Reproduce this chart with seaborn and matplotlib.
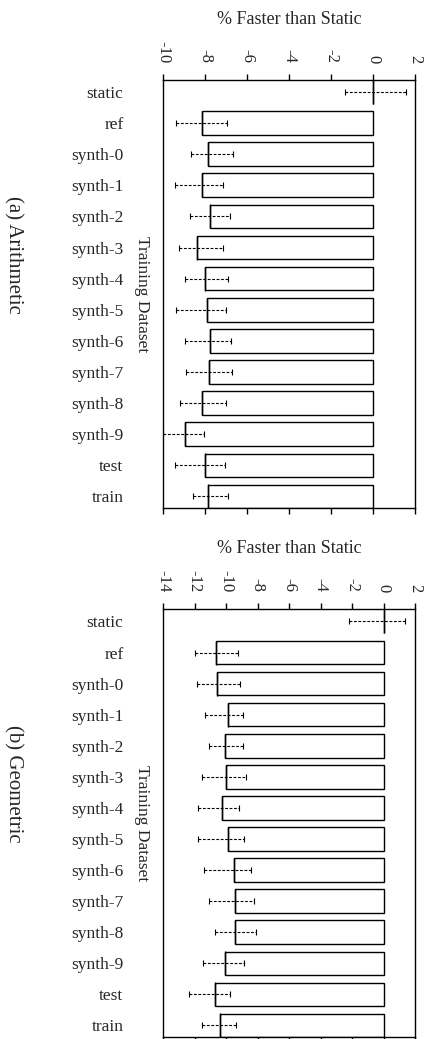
import matplotlib
matplotlib.use("Agg")
import matplotlib.pyplot as plt
import numpy as np
import pandas as pd
import seaborn as sns

sns.set_theme(style="white")
plt.rcParams["font.family"] = ["Liberation Serif", "DejaVu Serif"]

datasets = ["static", "ref", "synth-0", "synth-1", "synth-2", "synth-3", "synth-4",
            "synth-5", "synth-6", "synth-7", "synth-8", "synth-9", "test", "train"]

# Arithmetic mean speedup (%) and its confidence interval bounds
arith_mean = [0.0, -8.12, -7.86, -8.14, -7.78, -8.38, -8.02,
              -7.90, -7.78, -7.81, -8.16, -8.95, -8.00, -7.86]
arith_low = [-1.35, -9.37, -8.68, -9.44, -8.73, -9.25, -8.97,
             -9.37, -8.97, -8.92, -9.17, -10.00, -9.41, -8.57]
arith_high = [1.55, -6.94, -6.67, -7.14, -6.83, -7.14, -6.90,
              -6.98, -6.75, -6.70, -7.02, -8.05, -7.03, -6.90]

# Geometric mean speedup (%) and its confidence interval bounds
geo_mean = [0.0, -10.63, -10.54, -9.90, -10.07, -10.01, -10.26,
            -9.90, -9.48, -9.42, -9.42, -10.07, -10.73, -10.35]
geo_low = [-2.17, -11.96, -11.81, -11.31, -11.05, -11.50, -11.75,
           -11.79, -11.37, -11.11, -10.69, -11.43, -12.34, -11.50]
geo_high = [1.36, -9.21, -9.10, -8.95, -8.95, -8.74, -9.15,
            -8.83, -8.42, -8.21, -8.09, -8.83, -9.74, -9.38]

arith_ticks = [-10, -8, -6, -4, -2, 0, 2]
geo_ticks = [-14, -12, -10, -8, -6, -4, -2, 0, 2]

fig = plt.figure(figsize=(4.29, 10.39), dpi=100)
W, H = 429, 1039


def panel(rect, mean, low, high, ticks, caption, cap_y):
    ax = fig.add_axes(rect)
    df = pd.DataFrame({"dataset": datasets, "speedup": mean})
    sns.barplot(data=df, x="speedup", y="dataset", orient="h", errorbar=None,
                color="white", edgecolor="black", linewidth=1.0, width=0.76, ax=ax)
    m = np.array(mean)
    pos = np.arange(len(datasets))
    xerr = np.vstack([m - np.array(low), np.array(high) - m])
    _, caps, cols = ax.errorbar(m, pos, xerr=xerr, fmt="none",
                                ecolor="black", elinewidth=0.8, capsize=2, capthick=0.8)
    for c in cols:
        c.set_linestyle((0, (2.5, 1.5)))
    # tick at each mean, spanning the bar height (visible on the zero-length bar)
    ax.plot(m, pos, linestyle="none", marker="|", markersize=17.5,
            markeredgewidth=1.0, color="black")
    ax.set_xlim(ticks[0], ticks[-1])
    ax.set_ylim(len(datasets) - 0.63, -0.40)
    ax.set_xticks(ticks)
    ax.set_xticklabels([str(t) for t in ticks])
    ax.xaxis.set_label_position("top")
    ax.set_xlabel("% Faster than Static", fontsize=13, labelpad=12)
    ax.set_ylabel("")
    ax.tick_params(axis="x", which="major", top=True, bottom=True, labeltop=True,
                   labelbottom=False, direction="out", length=4, width=1.0,
                   labelsize=12, labelrotation=-90, pad=8, color="black")
    ax.tick_params(axis="y", left=False, labelsize=12.5, pad=22.5)
    for s in ax.spines.values():
        s.set_color("black")
        s.set_linewidth(1.0)
        s.set_visible(True)
    ax.text(-0.083, 0.5, "Training Dataset", transform=ax.transAxes, rotation=-90,
            ha="center", va="center", fontsize=12.5)
    fig.text(13 / W, 1 - cap_y / H, caption, rotation=-90, ha="center", va="center",
             fontsize=15)
    return ax


left = 163 / W
width = 252 / W
panel([left, 1 - 508 / H, width, 428.5 / H], arith_mean, arith_low, arith_high,
      arith_ticks, "(a) Arithmetic", 255)
panel([left, 1 - 1037 / H, width, 428 / H], geo_mean, geo_low, geo_high,
      geo_ticks, "(b) Geometric", 784)

fig.savefig("out.png", dpi=100, facecolor="white")
